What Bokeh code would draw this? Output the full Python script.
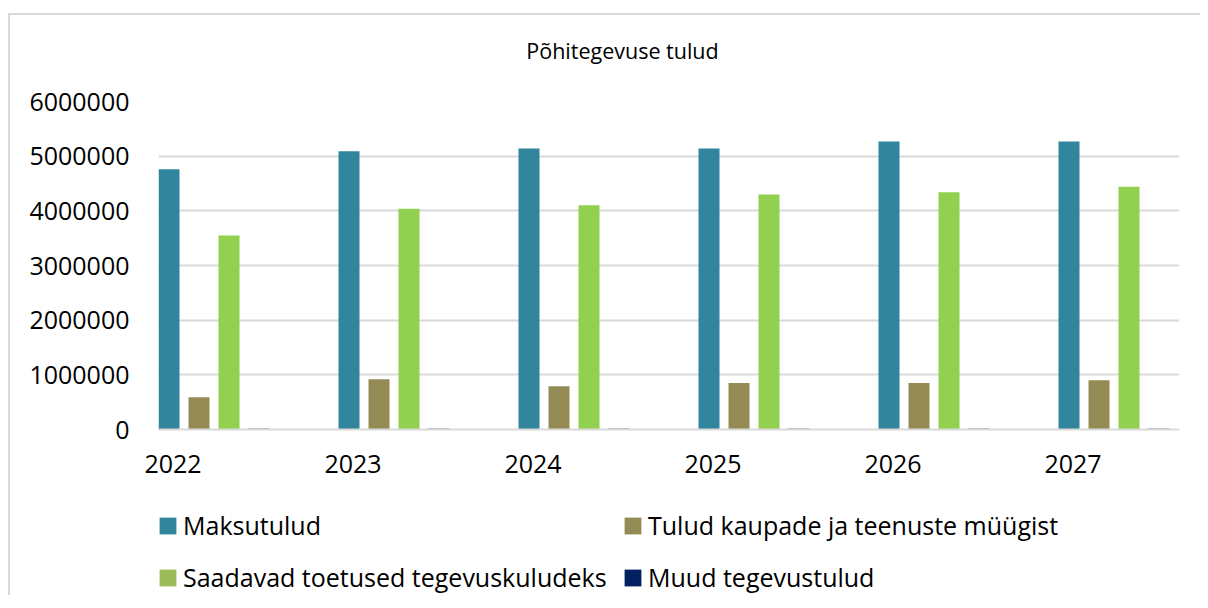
from bokeh.plotting import figure
from bokeh.layouts import column
from bokeh.models import (ColumnDataSource, Range1d, FixedTicker, Legend, LegendItem)
from bokeh.core.properties import value
from bokeh.embed import file_html
from bokeh.resources import INLINE

# ---- data ----
title_text = "Põhitegevuse tulud"
years = ["2022", "2023", "2024", "2025", "2026", "2027"]
series_names = ["Maksutulud", "Tulud kaupade ja teenuste müügist",
                "Saadavad toetused tegevuskuludeks", "Muud tegevustulud"]
maksutulud = [4760000, 5090000, 5140000, 5140000, 5270000, 5270000]
tulud_myyk = [590000, 920000, 790000, 850000, 850000, 900000]
toetused = [3550000, 4040000, 4100000, 4300000, 4340000, 4440000]
muud = [20000, 20000, 20000, 20000, 20000, 20000]
y_ticks = [0, 1000000, 2000000, 3000000, 4000000, 5000000, 6000000]

bar_colors = ["#31859c", "#948a54", "#92d050", "#002060"]
legend_colors = ["#31859c", "#948a54", "#9bbb59", "#002060"]

FONT = "Open Sans"
W = 1190
BL = 148
BR = W - 1169
FRAME_W = 1021


def strip(height):
    f = figure(width=W, height=height, output_backend="svg", toolbar_location=None,
               x_range=Range1d(0, FRAME_W), y_range=Range1d(0, height),
               x_axis_location=None, y_axis_location=None,
               min_border_left=BL, min_border_right=BR, min_border_top=0,
               min_border_bottom=0)
    f.grid.visible = False
    f.outline_line_color = None
    f.background_fill_color = "white"
    f.border_fill_color = "white"
    return f


# ---- title strip ----
pt = strip(60)
pt.text(x=[464], y=[25], text=[title_text], text_align="center",
        text_baseline="alphabetic", text_font=value(FONT),
        text_font_size="21.5px", text_color="#000000")

# ---- main chart ----
p = figure(width=W, height=424, output_backend="svg", toolbar_location=None,
           x_range=Range1d(-14.5 / 180, -14.5 / 180 + FRAME_W / 180),
           y_range=Range1d(0, 6000000),
           min_border_left=BL, min_border_right=BR, min_border_top=26,
           min_border_bottom=70)
p.background_fill_color = "white"
p.border_fill_color = "white"
p.outline_line_color = None

idx = list(range(len(years)))
offsets = [-4 / 180, 26 / 180, 56 / 180, 86 / 180]
bar_w = 21 / 180
all_series = [maksutulud, tulud_myyk, toetused, muud]
for j, vals in enumerate(all_series):
    src = ColumnDataSource(dict(x=[i + offsets[j] for i in idx], top=vals))
    p.vbar(x="x", top="top", width=bar_w, source=src, fill_color=bar_colors[j],
           line_color=None, fill_alpha=0.75 if j == 3 else 1.0)

p.xaxis.ticker = FixedTicker(ticks=idx)
p.xaxis.major_label_overrides = {i: years[i] for i in idx}
p.xaxis.major_tick_line_color = None
p.xaxis.minor_tick_line_color = None
p.xaxis.axis_line_color = "#d9d9d9"
p.xaxis.axis_line_width = 2
p.xaxis.major_label_standoff = 19
p.xaxis.major_label_text_font = FONT
p.xaxis.major_label_text_font_size = "25px"
p.xaxis.major_label_text_color = "#000000"

p.yaxis.ticker = FixedTicker(ticks=y_ticks)
p.yaxis.major_label_overrides = {v: str(v) for v in y_ticks}
p.yaxis.major_tick_line_color = None
p.yaxis.minor_tick_line_color = None
p.yaxis.axis_line_color = None
p.yaxis.major_label_standoff = 23
p.yaxis.major_label_text_font = FONT
p.yaxis.major_label_text_font_size = "25px"
p.yaxis.major_label_text_color = "#000000"

p.xgrid.visible = False
p.ygrid.ticker = FixedTicker(ticks=y_ticks)
p.ygrid.grid_line_color = "#d9d9d9"
p.ygrid.grid_line_width = 2

# ---- legend strip ----
pl = strip(96)
# legend proxies: one hidden point each, outside the visible range
positions = [(-1, 53), (464, 53), (-1, 1), (464, 1)]
for j, name in enumerate(series_names):
    r = pl.vbar(x=[-100], top=[-100], width=1, fill_color=legend_colors[j],
                line_color=None)
    lg = Legend(items=[LegendItem(label=name, renderers=[r])], location=positions[j],
                orientation="horizontal", padding=0, margin=0, spacing=0,
                glyph_width=21, glyph_height=21, label_height=21, label_standoff=5,
                label_text_font=FONT, label_text_font_size="25px",
                label_text_color="#000000",
                border_line_color=None, background_fill_alpha=0)
    pl.add_layout(lg)

layout = column(pt, p, pl, spacing=0)
layout.styles = {"border-left": "2px solid #d9d9d9", "border-top": "2px solid #d9d9d9",
                 "margin-left": "8px", "margin-top": "13px"}

open("out.html", "w").write(file_html(layout, INLINE))
